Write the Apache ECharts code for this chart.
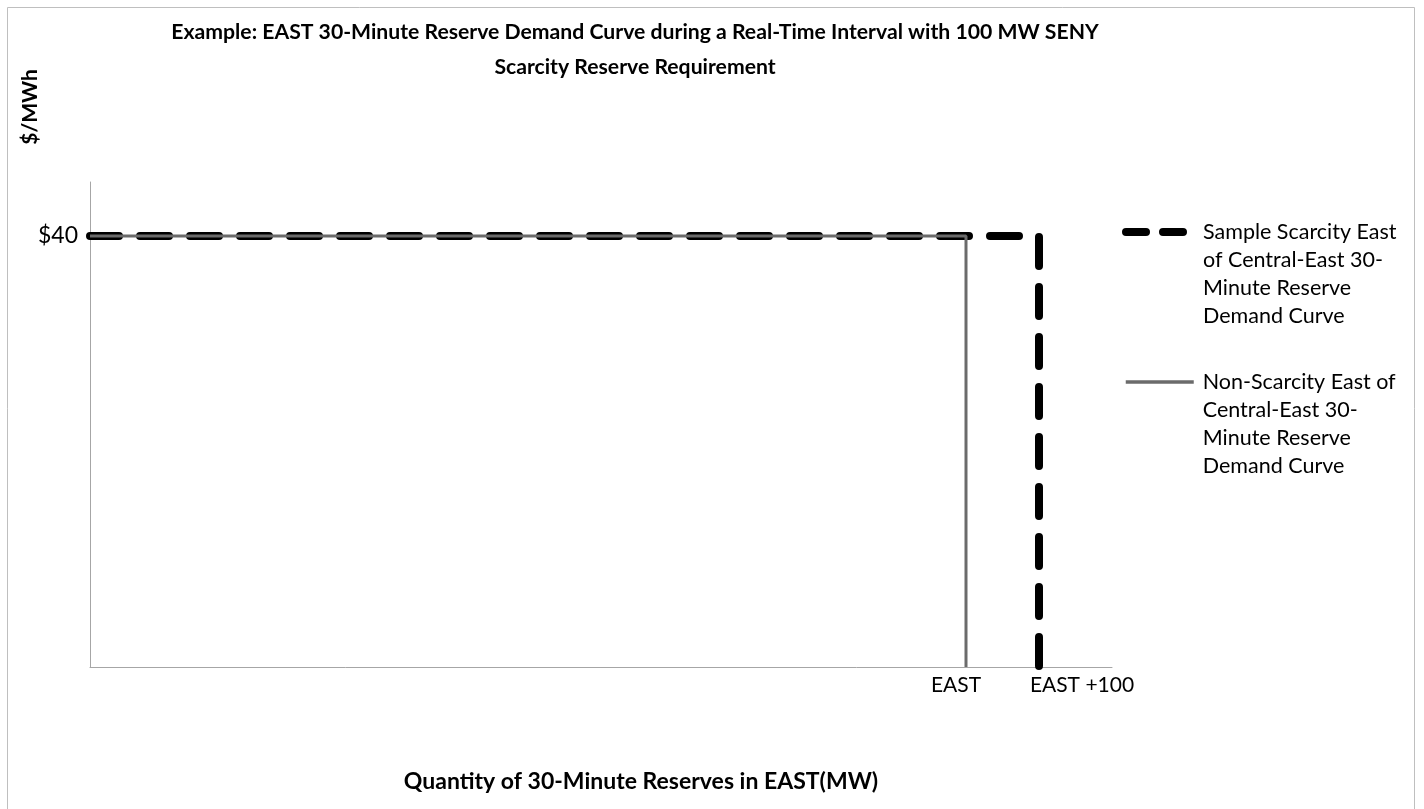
<!DOCTYPE html>
<html><head><meta charset="utf-8">
<script src="https://cdn.jsdelivr.net/npm/echarts@6/dist/echarts.min.js"></script>
<style>html,body{margin:0;padding:0;background:#fff}#c{width:1424px;height:809px}</style>
</head><body><div id="c"></div>
<script>
// Data
const EAST = 1200;
const scarcityX = [0, EAST + 100, EAST + 100];
const scarcityY = [40, 40, 0];
const nonScarcityX = [0, EAST, EAST];
const nonScarcityY = [40, 40, 0];
const xTickValues = [EAST, EAST + 100];
const xTickLabels = ['EAST', 'EAST +100'];
const yTickValues = [40];
const yTickLabels = ['$40'];
const seriesNames = [
  'Sample Scarcity East\nof Central-East 30-\nMinute Reserve\nDemand Curve',
  'Non-Scarcity East of\nCentral-East 30-\nMinute Reserve\nDemand Curve'
];

const FONT = 'Lato';
const chart = echarts.init(document.getElementById('c'), null, {renderer: 'canvas'});
const pairs = (xs, ys) => xs.map((x, i) => [x, ys[i]]);
const legendText = {fontFamily: FONT, fontSize: 21.5, lineHeight: 28, color: '#000', padding: [0, 0, 0, 4]};

chart.setOption({
  animation: false,
  backgroundColor: '#fff',
  textStyle: {fontFamily: FONT},
  title: {
    text: 'Example: EAST 30-Minute Reserve Demand Curve during a Real-Time Interval with 100 MW SENY\nScarcity Reserve Requirement',
    left: 630, top: 10, textAlign: 'center',
    textStyle: {fontFamily: FONT, fontWeight: 'bold', fontSize: 21.2, lineHeight: 35, color: '#000'}
  },
  grid: {left: 90, right: 312, top: 182, bottom: 142, containLabel: false},
  xAxis: {
    type: 'value', min: 0, max: 1400,
    name: 'Quantity of 30-Minute Reserves in EAST(MW)',
    nameLocation: 'middle', nameGap: 103,
    nameTextStyle: {fontFamily: FONT, fontWeight: 'bold', fontSize: 23, color: '#000', padding: [0, 0, 0, 80]},
    axisLine: {show: true, lineStyle: {color: '#a6a6a6', width: 1}},
    axisTick: {show: false},
    splitLine: {show: false},
    axisLabel: {
      customValues: xTickValues,
      margin: 8,
      formatter: v => {
        const i = xTickValues.indexOf(v);
        return i === 0 ? '{a|' + xTickLabels[0] + '}' : '{b|' + xTickLabels[1] + '}';
      },
      rich: {
        a: {fontFamily: FONT, fontSize: 21, color: '#000', padding: [0, 20, 0, 0]},
        b: {fontFamily: FONT, fontSize: 21, color: '#000', padding: [0, 0, 0, 86]}
      }
    }
  },
  yAxis: {
    type: 'value', min: 0, max: 45,
    axisLine: {show: true, lineStyle: {color: '#a6a6a6', width: 1}},
    axisTick: {show: false},
    splitLine: {show: false},
    axisLabel: {
      customValues: yTickValues,
      margin: 12,
      formatter: v => yTickLabels[yTickValues.indexOf(v)],
      fontFamily: FONT, fontSize: 23, color: '#000'
    }
  },
  legend: [
    {
      data: [seriesNames[0]], orient: 'vertical', left: 1122, top: 134, padding: 0,
      itemWidth: 68, itemHeight: 8, itemGap: 0,
      formatter: n => '\n\n\n' + n,
      itemStyle: {opacity: 0},
      lineStyle: {type: [20, 17], width: 8, cap: 'round'},
      textStyle: legendText
    },
    {
      data: [seriesNames[1]], orient: 'vertical', left: 1124, top: 284, padding: 0,
      itemWidth: 68, itemHeight: 8, itemGap: 0,
      formatter: n => '\n\n\n' + n,
      itemStyle: {opacity: 0},
      lineStyle: {width: 3.5},
      textStyle: legendText
    }
  ],
  graphic: [
    {type: 'rect', shape: {x: 7.5, y: 7.5, width: 1407, height: 830}, style: {fill: 'none', stroke: '#bfbfbf', lineWidth: 1}, silent: true},
    {type: 'text', x: 30, y: 107, rotation: Math.PI / 2,
     style: {text: '$/MWh', fontFamily: FONT, fontWeight: 'bold', fontSize: 21, fill: '#000', align: 'center', verticalAlign: 'middle'}}
  ],
  series: [
    {
      name: seriesNames[0], type: 'line', symbol: 'none', z: 2,
      data: pairs(scarcityX, scarcityY),
      lineStyle: {color: '#000', width: 8, type: [29, 21], cap: 'round', join: 'miter'},
      itemStyle: {color: '#000'}
    },
    {
      name: seriesNames[1], type: 'line', symbol: 'none', z: 3,
      data: pairs(nonScarcityX, nonScarcityY),
      lineStyle: {color: '#6b6b6b', width: 3},
      itemStyle: {color: '#6b6b6b'}
    }
  ]
});
</script></body></html>
